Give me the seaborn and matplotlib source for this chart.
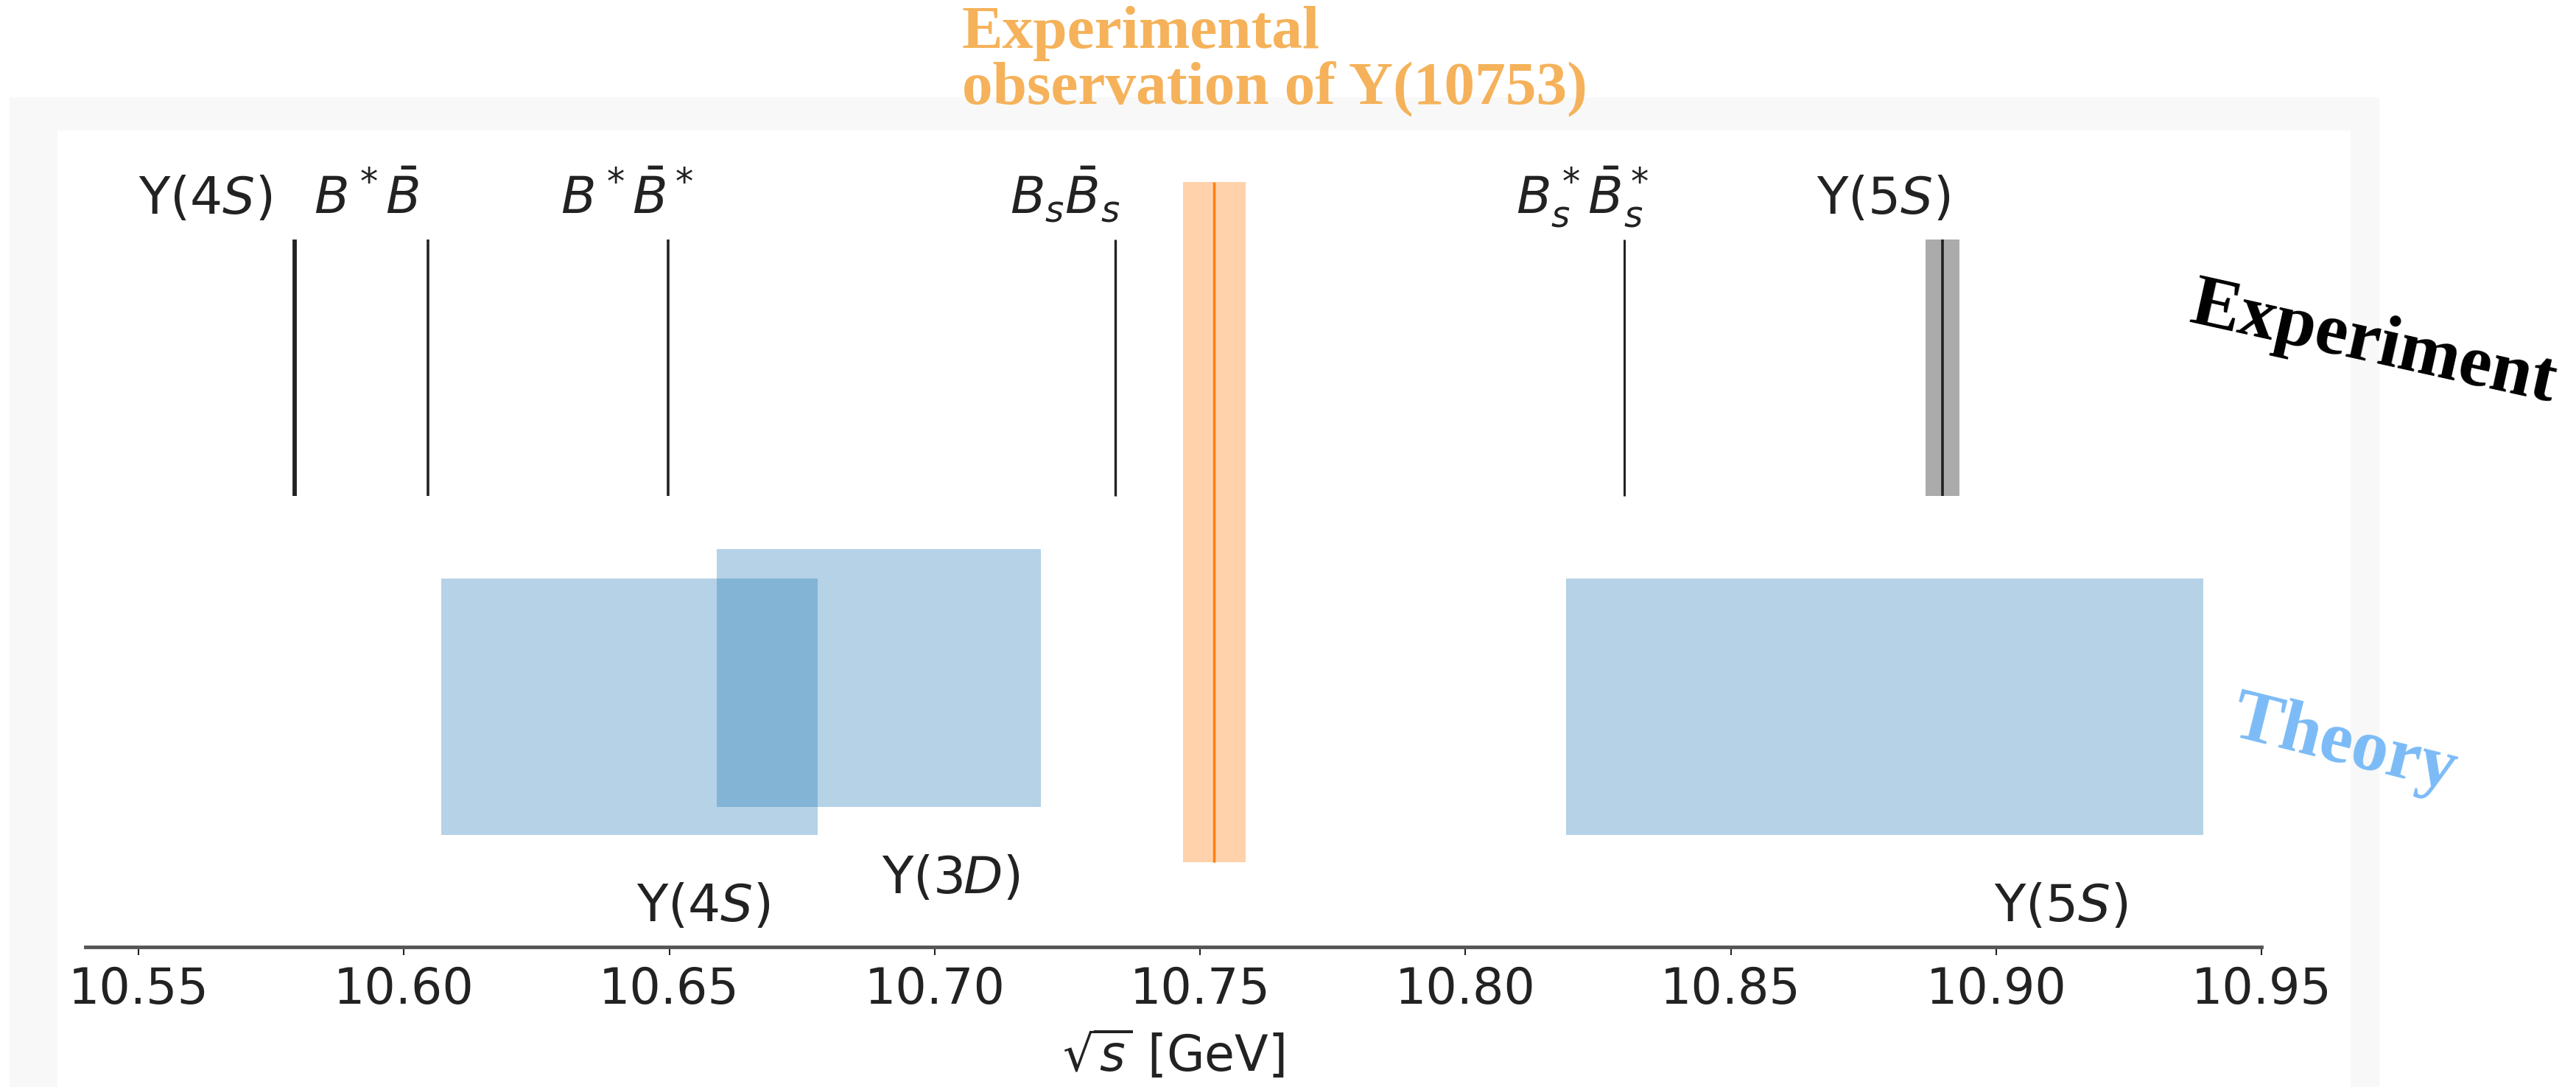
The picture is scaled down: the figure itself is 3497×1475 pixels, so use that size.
import matplotlib
matplotlib.use("Agg")
import matplotlib.pyplot as plt
from matplotlib.patches import Rectangle
import seaborn as sns

# ---- data (GeV) ----
exp_labels = [r"$\Upsilon(4S)$", r"$B^*\bar{B}$", r"$B^*\bar{B}^*$",
              r"$B_s\bar{B}_s$", r"$B_s^*\bar{B}_s^*$", r"$\Upsilon(5S)$"]
exp_masses = [10.5794, 10.6046, 10.6498, 10.7340, 10.8299, 10.8899]

y5s_mass = 10.8899
y5s_err = 0.0032

y10753_mass = 10.7527
y10753_err = 0.0059

theory_labels = [r"$\Upsilon(4S)$", r"$\Upsilon(3D)$", r"$\Upsilon(5S)$"]
theory_low = [10.607, 10.659, 10.819]
theory_high = [10.678, 10.720, 10.939]

xticks = [10.55, 10.60, 10.65, 10.70, 10.75, 10.80, 10.85, 10.90, 10.95]
xtick_labels = ["10.55", "10.60", "10.65", "10.70", "10.75",
                "10.80", "10.85", "10.90", "10.95"]

# ---- layout / style ----
exp_label_dx = [-0.0169, -0.0116, -0.0078, -0.0095, -0.0079, -0.0112]
exp_lw = [4.2, 2.6, 2.6, 2.4, 2.2, 2.6]
exp_band = (0.564, 0.885)
theory_rows = [(0.140, 0.461), (0.175, 0.498), (0.140, 0.461)]
theory_label_pos = [(10.6564, 0.032), (10.7031, 0.067), (10.9122, 0.032)]

sns.set_theme(style="white")
plt.rcParams["font.family"] = ["DejaVu Sans"]
plt.rcParams["mathtext.fontset"] = "dejavusans"
pal = sns.color_palette("tab10")
blue, orange = pal[0], pal[1]

W, H = 3498, 1475
fig = plt.figure(figsize=(W / 100, H / 100), dpi=100)
fig.patch.set_facecolor("white")

# light grey frame behind the plot
fig.add_artist(Rectangle((13 / W, 0), (3230 - 13) / W, (H - 132) / H,
                         transform=fig.transFigure, color="#f8f8f8", lw=0, zorder=-10))
fig.add_artist(Rectangle((78 / W, 0), (3191 - 78) / W, (H - 177) / H,
                         transform=fig.transFigure, color="white", lw=0, zorder=-9))

ax = fig.add_axes([116 / W, 1 - 1285 / H, (3070 - 116) / W, (1285 - 200) / H])
ax.patch.set_alpha(0)
ax.set_xlim(10.54, 10.95)
ax.set_ylim(0, 1)

# experimental thresholds and resonances
for m, lab, dx, lw in zip(exp_masses, exp_labels, exp_label_dx, exp_lw):
    ax.vlines(m, *exp_band, color="#222222", lw=lw)
    ax.text(m + dx, 0.917, lab, ha="center", va="baseline", fontsize=50, color="#222222")
ax.axvspan(y5s_mass - y5s_err, y5s_mass + y5s_err, *exp_band,
           color="black", alpha=0.33, lw=0)

# new state
ax.axvspan(y10753_mass - y10753_err, y10753_mass + y10753_err, 0.106, 0.957,
           color=orange, alpha=0.35, lw=0)
ax.vlines(y10753_mass, 0.106, 0.957, color=orange, lw=2.5)

# theory predictions
for lo, hi, (y0, y1), lab, (lx, ly) in zip(theory_low, theory_high, theory_rows,
                                            theory_labels, theory_label_pos):
    ax.axvspan(lo, hi, y0, y1, color=blue, alpha=0.33, lw=0)
    ax.text(lx, ly, lab, ha="center", va="baseline", fontsize=50, color="#222222")

ax.set_xticks(xticks)
ax.set_xticklabels(xtick_labels)
ax.set_yticks([])
ax.tick_params(axis="x", labelsize=48, length=8, width=1.5, pad=10,
               colors="#222222", bottom=True)
ax.set_xlabel(r"$\sqrt{s}$ [GeV]", fontsize=48, labelpad=14, color="#222222")
sns.despine(ax=ax, left=True, top=True, right=True)
ax.spines["bottom"].set_color("#555555")
ax.spines["bottom"].set_linewidth(3.5)

# annotations
fig.text(1306 / W, 1 - 8 / H, "Experimental\nobservation of \u03a5(10753)",
         ha="left", va="top", fontsize=60, fontweight="bold",
         family=["Liberation Serif", "DejaVu Serif"], color="#F5B25A", linespacing=1.0)
fig.text(3222 / W, 1 - 468 / H, "Experiment", ha="center", va="center",
         rotation=-12.5, rotation_mode="anchor", fontsize=72, fontweight="bold",
         family=["Liberation Serif", "DejaVu Serif"], color="black")
fig.text(3182 / W, 1 - 1012 / H, "Theory", ha="center", va="center",
         rotation=-14, rotation_mode="anchor", fontsize=72, fontweight="bold",
         family=["Liberation Serif", "DejaVu Serif"], color="#7BBBF6")

fig.savefig("out.png", dpi=100)
